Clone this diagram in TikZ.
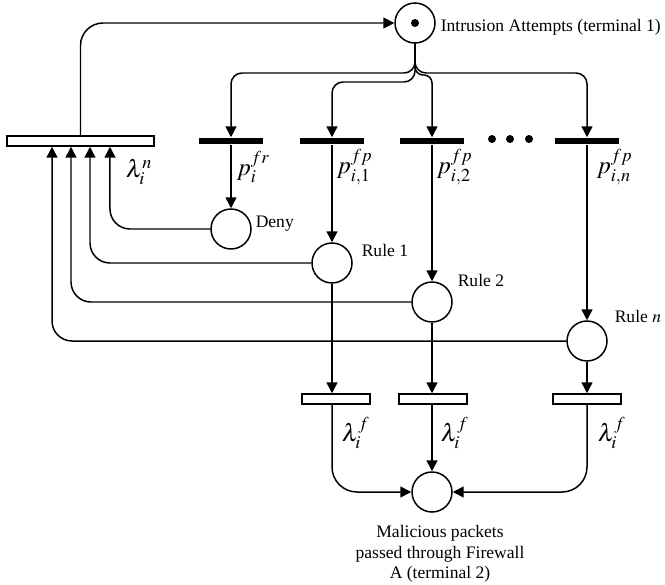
\documentclass[tikz,border=0pt]{standalone}
\usepackage{mathptmx}
\usepackage[no-math]{fontspec}
\setmainfont{Liberation Serif}
\usetikzlibrary{arrows.meta}

\begin{document}
\begin{tikzpicture}[
    x=0.02cm, y=-0.02cm,
    font=\fontsize{10}{11.6}\selectfont,
    line width=0.85pt,
    >={Triangle[length=2.2mm,width=2.2mm]},
    lugar/.style={
        draw,
        circle,
        minimum size=0.8cm,
        inner sep=0pt
    },
    temporizada/.style={
        draw,
        fill=white,
        minimum width=#1,
        minimum height=0.2cm,
        inner sep=0pt
    },
    inmediata/.style={
        fill=black,
        minimum width=1.28cm,
        minimum height=0.12cm,
        inner sep=0pt
    },
    texto/.style={anchor=base west, inner sep=0pt},
    formula/.style={anchor=west, inner sep=0pt, font=\fontsize{14}{16}\selectfont}
]
    \useasboundingbox (0,0) rectangle (665,584);

    \node[lugar] (intentos) at (415,23) {};
    \fill (intentos.center) circle (0.08cm);
    \node[texto] (tintentos) at (440,32) {Intrusion Attempts (terminal 1)};

    \node[temporizada=2.94cm] (lamn) at (80.5,141) {};
    \node[formula] (flamn) at (125,172) {$\lambda_i^n$};

    \node[inmediata] (pfr) at (231,141) {};
    \node[inmediata] (p1) at (332,141) {};
    \node[inmediata] (p2) at (432,141) {};
    \node[inmediata] (pn) at (587,141) {};
    \foreach \x in {492,510,529}
        \fill (\x,139) circle (0.08cm);

    \node[formula] (fpfr) at (236,167) {$p_i^{fr}$};
    \node[formula] (fp1) at (336,167) {$p_{i,1}^{fp}$};
    \node[formula] (fp2) at (436,167) {$p_{i,2}^{fp}$};
    \node[formula] (fpn) at (596,167) {$p_{i,n}^{fp}$};

    \node[lugar] (denegar) at (231,229) {};
    \node[lugar] (regla1) at (332,263) {};
    \node[lugar] (regla2) at (432,302) {};
    \node[lugar] (reglan) at (587,341) {};
    \node[texto] (tdenegar) at (255,227) {Deny};
    \node[texto] (tregla1) at (361,256) {Rule 1};
    \node[texto] (tregla2) at (457,286) {Rule 2};
    \node[texto] (treglan) at (614,322) {Rule $n$};

    \node[temporizada=1.36cm] (lf1) at (336,399) {};
    \node[temporizada=1.36cm] (lf2) at (433,399) {};
    \node[temporizada=1.36cm] (lfn) at (587,399) {};
    \node[formula] (flf1) at (341,433) {$\lambda_i^f$};
    \node[formula] (flf2) at (440,433) {$\lambda_i^f$};
    \node[formula] (flfn) at (597,433) {$\lambda_i^f$};

    \node[lugar] (salida) at (432,492) {};
    \node[align=center, anchor=north, inner sep=0pt] (tsalida) at (440,525)
        {Malicious packets\\passed through Firewall\\A (terminal 2)};

    \coordinate (externo) at (415,73);
    \coordinate (interno) at (415,82);
    \coordinate (derecho) at (415,75);

    \draw[->,rounded corners=0.45cm] (lamn.north) |- (intentos.west);

    \draw[->] (intentos.south) [rounded corners=0.22cm] |- (pfr.north |- externo)
        [rounded corners=0.5cm] -- (pfr.north);
    \draw[->] (intentos.south) [rounded corners=0.22cm] |- (pn.north |- externo)
        [rounded corners=0.5cm] -- (pn.north);
    \draw[->] (intentos.south) [rounded corners=0.22cm] |- (p1.north |- interno)
        [rounded corners=0.5cm] -- (p1.north);
    \draw[->,rounded corners=0.16cm] (intentos.south) |- (p2.north |- derecho) -- (p2.north);

    \draw[->] (pfr.south) -- (denegar.north);
    \draw[->] (p1.south) -- (regla1.north);
    \draw[->] (p2.south) -- (regla2.north);
    \draw[->] (pn.south) -- (reglan.north);

    \draw[->,rounded corners=0.4cm] (denegar.west) -| ([xshift=0.59cm]lamn.south);
    \draw[->,rounded corners=0.4cm] (regla1.west) -| ([xshift=0.19cm]lamn.south);
    \draw[->,rounded corners=0.4cm] (regla2.west) -| ([xshift=-0.19cm]lamn.south);
    \draw[->,rounded corners=0.4cm] (reglan.west) -| ([xshift=-0.57cm]lamn.south);

    \draw[->] (regla1.south) -- (regla1.south |- lf1.north);
    \draw[->] (regla2.south) -- (regla2.south |- lf2.north);
    \draw[->] (reglan.south) -- (lfn.north);

    \draw[->,rounded corners=0.5cm] (regla1 |- lf1.south) |- (salida.west);
    \draw[->] (salida |- lf2.south) -- (salida.north);
    \draw[->,rounded corners=0.5cm] (lfn.south) |- (salida.east);
\end{tikzpicture}
\end{document}
